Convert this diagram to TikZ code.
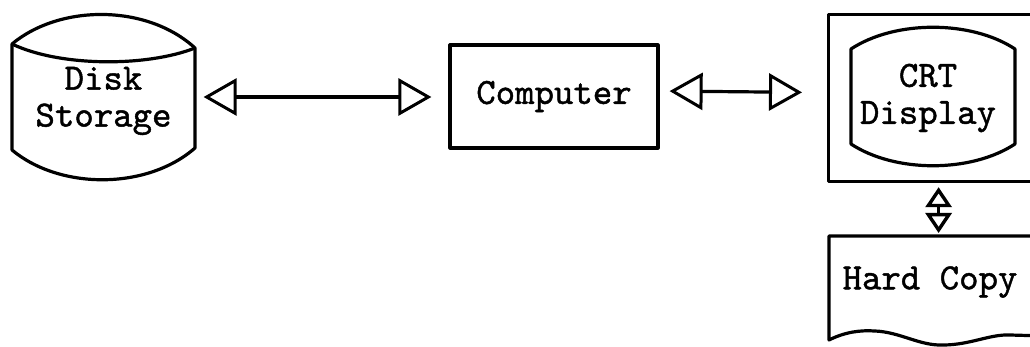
\documentclass[tikz,border=0pt]{standalone}
\usepackage{fontspec}
\newfontfamily\typewriter{lmmono10-regular.otf}[FakeBold=1.2]
\usetikzlibrary{arrows.meta}
\begin{document}
\begin{tikzpicture}[x=1pt,y=-1pt,
  line width=3.2pt, line join=round,
  every node/.style={line width=3.2pt},
  label/.style={font=\fontsize{37}{37}\selectfont\typewriter, inner sep=0pt, align=center},
  frame/.style={inner sep=0pt, minimum width=#1},
  bigflow/.style={{Triangle[open,length=33pt,width=37pt,line width=3pt]}-{Triangle[open,length=33pt,width=37pt,line width=3pt]}},
  smallflow/.style={{Triangle[open,length=20pt,width=26pt,line width=3.4pt]}-{Triangle[open,length=20pt,width=26pt,line width=3.4pt]}}]
\clip (0,0) rectangle (1030,347);
\fill[white] (0,0) rectangle (1030,347);

% disk storage (cylinder)
\node[label, frame=183, minimum height=106] (disk) at (103.5,101) {Disk\\Storage};
\draw (12,44) .. controls (60,4) and (147,4) .. (195,48)
      -- (195,148) .. controls (147,190) and (60,190) .. (12,150) -- cycle;
\draw (12,44) .. controls (60,67) and (147,67) .. (195,48);

% computer
\node[label, draw, frame=208, minimum height=103] (comp) at (554,96.5) {Computer};

% display unit: outer cabinet and screen
\node[draw, frame=220, minimum height=167, anchor=north west] (crt) at (827,13) {};
\draw (851,49) .. controls (895,20) and (971,20) .. (1015,49)
      -- (1015,144) .. controls (971,173) and (895,173) .. (851,144) -- cycle;
\node[label] (scr) at (928,98) {CRT\\Display};

% hard copy document
\node[frame=216, minimum height=104, anchor=north west] (hc) at (829,236) {};
\draw (1045,236) -- (829,236) -- (829,340)
      .. controls (845,332) and (860,330) .. (875,331)
      .. controls (900,332) and (920,346) .. (943,345)
      .. controls (970,345) and (990,334) .. (1010,335) -- (1045,336);
\node[label, anchor=west] (hctext) at (841,282) {Hard Copy};

% data paths
\draw[bigflow, shorten <=7pt, shorten >=17pt] ([yshift=4]disk.east) -- ([yshift=4]disk.east -| comp.west);
\draw[bigflow, shorten <=10pt, shorten >=25pt] ([yshift=5.5]comp.east) -- ([yshift=5.5]crt.west);
\draw[smallflow, shorten <=4pt, shorten >=3pt] (crt.south) -- (hc.north);
\end{tikzpicture}
\end{document}
